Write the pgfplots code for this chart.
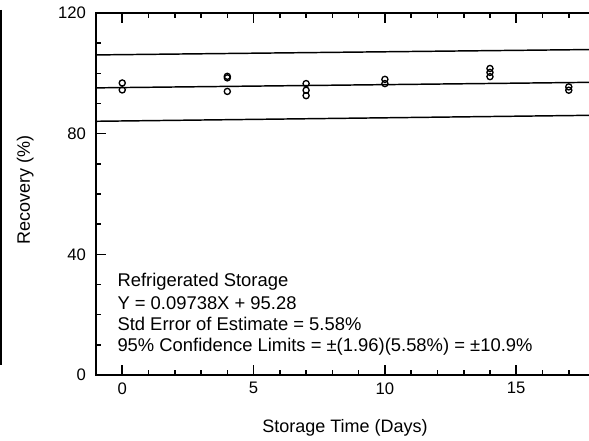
\documentclass[border=0pt]{standalone}
\usepackage{pgfplots}
\pgfplotsset{compat=1.18}
\usepackage{fontspec}
\setmainfont{Liberation Sans}

\begin{document}
\begin{tikzpicture}
\begin{axis}[
    scale only axis,
    width=374.3pt, height=271.5pt,
    xmin=-1, xmax=18, ymin=0, ymax=120,
    xtick={0,5,10,15},
    minor xtick={-1,1,2,3,4,6,7,8,9,11,12,13,14,16,17,18},
    ytick={0,40,80,120},
    minor ytick={10,20,30,50,60,70,90,100,110},
    xtick pos=both, ytick pos=left,
    tick align=inside,
    major tick length=7.5pt, minor tick length=4pt,
    axis line style={line width=1.5pt},
    every tick/.style={line width=1.2pt, black},
    /pgf/number format/assume math mode=true,
    ticklabel style={font=\fontsize{12.5}{15}\selectfont},
    yticklabel style={xshift=-4pt},
    xticklabel style={yshift=-2pt},
    xlabel={Storage Time (Days)},
    ylabel={Recovery (\%)},
    every axis x label/.style={at={(axis description cs:0.499,-0.146)}, anchor=center, font=\fontsize{13.5}{15}\selectfont},
    every axis y label/.style={at={(axis description cs:-0.142,0.511)}, rotate=90, anchor=center, font=\fontsize{13.5}{15}\selectfont},
    clip=false,
]
% regression line and 95% limits
\addplot[line width=1.1pt] coordinates {(-1,106.1) (18,107.9)};
\addplot[line width=1.1pt] coordinates {(-1,95.18) (18,97.03)};
\addplot[line width=1.1pt] coordinates {(-1,84.1) (18,86.1)};

\addplot[only marks, mark=o, mark size=2.3pt, mark options={line width=1pt}] coordinates {
    (0,96.8) (0,94.5)
    (4,99.0) (4,98.5) (4,94.0)
    (7,96.6) (7,94.4) (7,92.6)
    (10,98.0) (10,96.6)
    (14,101.6) (14,100.3) (14,98.9)
    (17,95.5) (17,94.4)
};

\node[anchor=mid west, inner sep=0pt, font=\fontsize{13.8}{15}\selectfont] at (axis cs:-0.19,30.5) {Refrigerated Storage};
\node[anchor=mid west, inner sep=0pt, font=\fontsize{13.8}{15}\selectfont] at (axis cs:-0.19,22.9) {Y = 0.09738X + 95.28};
\node[anchor=mid west, inner sep=0pt, font=\fontsize{13.8}{15}\selectfont] at (axis cs:-0.19,15.9) {Std Error of Estimate = 5.58\%};
\node[anchor=mid west, inner sep=0pt, font=\fontsize{13.8}{15}\selectfont] at (axis cs:-0.19,8.95) {95\% Confidence Limits = ±(1.96)(5.58\%) = ±10.9\%};

\draw[line width=1.2pt] (axis cs:-4.62,121) -- (axis cs:-4.62,3.3);

\coordinate (bl) at (axis cs:-4.654,-21.55);
\coordinate (tr) at (axis cs:17.77,124.31);
\end{axis}
\pgfresetboundingbox
\useasboundingbox (bl) rectangle (tr);
\end{tikzpicture}
\end{document}
